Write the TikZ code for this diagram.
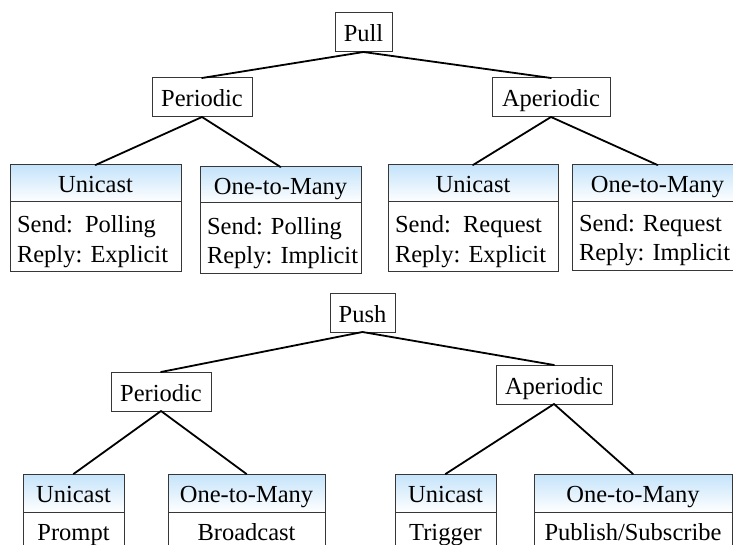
\documentclass[tikz,border=0pt]{standalone}
\usepackage{fontspec}
\setmainfont{Liberation Serif}
\definecolor{hdrtop}{RGB}{196,227,250}
\definecolor{edge}{RGB}{55,55,55}
\tikzset{
  frame/.style={draw=edge, line width=1pt, inner sep=0pt, outer sep=0pt, fill=white},
  hdr/.style={frame, top color=hdrtop, bottom color=white},
  lbl/.style={inner sep=0pt, outer sep=0pt, anchor=base, font=\fontsize{24.5}{29}\selectfont},
  lbll/.style={lbl, anchor=base west},
  link/.style={line width=1.8pt, line cap=round},
}
\begin{document}
\begin{tikzpicture}[x=1pt,y=-1pt]
\useasboundingbox (0,0) rectangle (733,545);
\clip (0,0) rectangle (733,545);

% ---------------- Pull tree ----------------
\node[frame, minimum width=57pt, minimum height=39pt] (pull) at (363.5,32.5) {};
\node[frame, minimum width=100pt, minimum height=39pt] (perA) at (202,97.5) {};
\node[frame, minimum width=118pt, minimum height=39pt] (aperA) at (551,97.5) {};

\node[hdr, minimum width=171pt, minimum height=37pt] (uniA) at (95.5,183.5) {};
\node[frame, minimum width=171pt, minimum height=69pt] (uniAb) at (95.5,236.5) {};
\node[hdr, minimum width=161pt, minimum height=36pt] (otmA) at (280.5,185) {};
\node[frame, minimum width=161pt, minimum height=70pt] (otmAb) at (280.5,238) {};
\node[hdr, minimum width=170pt, minimum height=37pt] (uniB) at (473,183.5) {};
\node[frame, minimum width=170pt, minimum height=69pt] (uniBb) at (473,236.5) {};
\node[hdr, minimum width=171pt, minimum height=37pt] (otmB) at (657.5,183.5) {};
\node[frame, minimum width=171pt, minimum height=68pt] (otmBb) at (657.5,236) {};

\draw[link] (pull.south) -- (perA.north);
\draw[link] (pull.south) -- (aperA.north);
\draw[link] (perA.south) -- (uniA.north);
\draw[link] (perA.south) -- (otmA.north);
\draw[link] (aperA.south) -- (uniB.north);
\draw[link] (aperA.south) -- (otmB.north);

\node[lbl] (pullT) at (363.5,42) {Pull};
\node[lbl] (perAT) at (202,107) {Periodic};
\node[lbl] (aperAT) at (551,107) {Aperiodic};

\node[lbl] (uniAT) at (95.5,193) {Unicast};
\node[lbll] (uniAs) at (17,233) {Send:\ \ Polling};
\node[lbll] (uniAr) at (17,262) {Reply: Explicit};
\node[lbl] (otmAT) at (280.5,195) {One-to-Many};
\node[lbll] (otmAs) at (207,235) {Send: Polling};
\node[lbll] (otmAr) at (207,264) {Reply: Implicit};
\node[lbl] (uniBT) at (473,193) {Unicast};
\node[lbll] (uniBs) at (395,233) {Send:\ \ Request};
\node[lbll] (uniBr) at (395,262) {Reply: Explicit};
\node[lbl] (otmBT) at (657.5,193) {One-to-Many};
\node[lbll] (otmBs) at (579,232) {Send: Request};
\node[lbll] (otmBr) at (579,261) {Reply: Implicit};

% ---------------- Push tree ----------------
\node[frame, minimum width=65pt, minimum height=39pt] (push) at (362.5,312.5) {};
\node[frame, minimum width=100pt, minimum height=39pt] (perB) at (161,391.5) {};
\node[frame, minimum width=116pt, minimum height=39pt] (aperB) at (554,384.5) {};

\node[hdr, minimum width=101pt, minimum height=38pt] (uniC) at (73.5,493) {};
\node[frame, minimum width=101pt, minimum height=48pt] (uniCb) at (73.5,536) {};
\node[hdr, minimum width=157pt, minimum height=38pt] (otmC) at (246.5,493) {};
\node[frame, minimum width=157pt, minimum height=48pt] (otmCb) at (246.5,536) {};
\node[hdr, minimum width=101pt, minimum height=38pt] (uniD) at (445.5,493) {};
\node[frame, minimum width=101pt, minimum height=48pt] (uniDb) at (445.5,536) {};
\node[hdr, minimum width=198pt, minimum height=38pt] (otmD) at (633,493) {};
\node[frame, minimum width=198pt, minimum height=48pt] (otmDb) at (633,536) {};

\draw[link] (push.south) -- (perB.north);
\draw[link] (push.south) -- (aperB.north);
\draw[link] (perB.south) -- (uniC.north);
\draw[link] (perB.south) -- (otmC.north);
\draw[link] (aperB.south) -- (uniD.north);
\draw[link] (aperB.south) -- (otmD.north);

\node[lbl] (pushT) at (362.5,322) {Push};
\node[lbl] (perBT) at (161,401) {Periodic};
\node[lbl] (aperBT) at (554,394) {Aperiodic};

\node[lbl] (uniCT) at (73.5,502) {Unicast};
\node[lbl] (uniCx) at (73.5,540) {Prompt};
\node[lbl] (otmCT) at (246.5,502) {One-to-Many};
\node[lbl] (otmCx) at (246.5,540) {Broadcast};
\node[lbl] (uniDT) at (445.5,502) {Unicast};
\node[lbl] (uniDx) at (445.5,540) {Trigger};
\node[lbl] (otmDT) at (633,502) {One-to-Many};
\node[lbl] (otmDx) at (633,540) {Publish/Subscribe};
\end{tikzpicture}
\end{document}
